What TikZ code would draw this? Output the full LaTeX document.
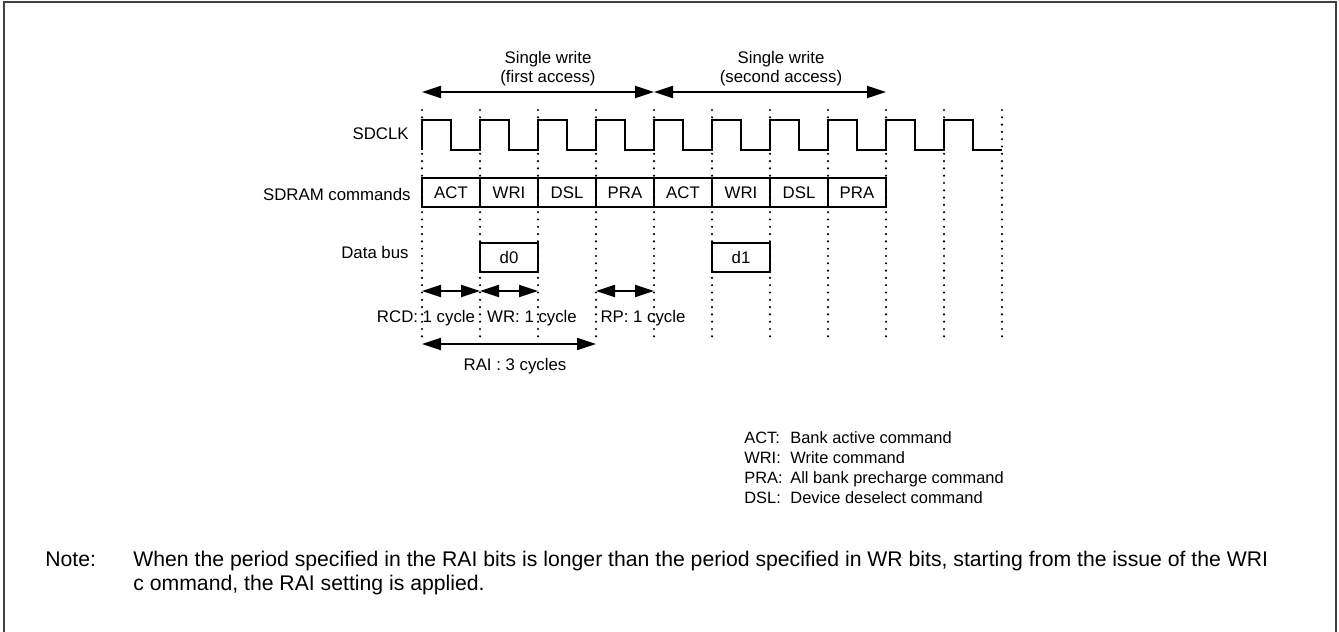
\documentclass[tikz,border=0pt]{standalone}
\usepackage{fontspec}
\setmainfont{Liberation Sans}
\usetikzlibrary{arrows.meta}

\newcommand{\dfont}{\fontsize{8.4}{9.5}\selectfont}
\newcommand{\lfont}{\fontsize{8.2}{10}\selectfont}
\newcommand{\nfont}{\fontsize{10.6}{12}\selectfont}

\begin{document}
\begin{tikzpicture}[
  x=0.5pt, y=-0.5pt,
  lbl/.style={font=\dfont, inner sep=0pt},
  cell/.style={draw, line width=0.9pt, minimum width=29pt, minimum height=14.5pt, inner sep=0pt, font=\dfont},
  guide/.style={line width=1.2pt, dash pattern=on 0pt off 3.65pt, line cap=round},
  sig/.style={line width=0.9pt},
  dim/.style={{Triangle[length=9.5pt, width=6pt]}-{Triangle[length=9.5pt, width=6pt]}, line width=0.9pt},
  frame/.style={line width=1pt, black!75}
]

\useasboundingbox (0,0) rectangle (1339,632);

% Outer frame (open at the bottom)
\draw[frame] (4,632) -- (4,2) -- (1336,2) -- (1336,632);

% Cycle guides
\draw[guide] (422,110) -- (422,342);
\draw[guide] (480,110) -- (480,342);
\draw[guide] (538,110) -- (538,342);
\draw[guide] (596,110) -- (596,342);
\draw[guide] (654,110) -- (654,342);
\draw[guide] (712,110) -- (712,342);
\draw[guide] (770,110) -- (770,342);
\draw[guide] (828,110) -- (828,342);
\draw[guide] (886,110) -- (886,342);
\draw[guide] (944,110) -- (944,342);
\draw[guide] (1002,110) -- (1002,342);

% Signal names
\node[lbl, anchor=base east] (clkname) at (409,139) {SDCLK};
\node[lbl, anchor=base east] (cmdname) at (411,200) {SDRAM commands};
\node[lbl, anchor=base east] (busname) at (409,258) {Data bus};

% SDCLK
\draw[sig] (422,150)
  -- ++(0,-30) -- ++(29,0) -- ++(0,30) -- ++(29,0)
  -- ++(0,-30) -- ++(29,0) -- ++(0,30) -- ++(29,0)
  -- ++(0,-30) -- ++(29,0) -- ++(0,30) -- ++(29,0)
  -- ++(0,-30) -- ++(29,0) -- ++(0,30) -- ++(29,0)
  -- ++(0,-30) -- ++(29,0) -- ++(0,30) -- ++(29,0)
  -- ++(0,-30) -- ++(29,0) -- ++(0,30) -- ++(29,0)
  -- ++(0,-30) -- ++(29,0) -- ++(0,30) -- ++(29,0)
  -- ++(0,-30) -- ++(29,0) -- ++(0,30) -- ++(29,0)
  -- ++(0,-30) -- ++(29,0) -- ++(0,30) -- ++(29,0)
  -- ++(0,-30) -- ++(29,0) -- ++(0,30) -- ++(29,0);

% SDRAM commands
\node[cell] (c1) at (451,192.5) {ACT};
\node[cell] (c2) at (509,192.5) {WRI};
\node[cell] (c3) at (567,192.5) {DSL};
\node[cell] (c4) at (625,192.5) {PRA};
\node[cell] (c5) at (683,192.5) {ACT};
\node[cell] (c6) at (741,192.5) {WRI};
\node[cell] (c7) at (799,192.5) {DSL};
\node[cell] (c8) at (857,192.5) {PRA};

% Data bus
\node[cell] (d0) at (509,257.5) {d0};
\node[cell] (d1) at (741,257.5) {d1};

% Access spans
\coordinate (a0) at (422,92);
\coordinate (a1) at (654,92);
\coordinate (a2) at (886,92);
\draw[dim] (a0) -- (a1);
\draw[dim] (a1) -- (a2);
\node[lbl, align=center] (first) at (548,69) {Single write\\(first access)};
\node[lbl, align=center] (second) at (781,69) {Single write\\(second access)};

% Timing spans
\coordinate (r0) at (422,291);
\coordinate (r1) at (480,291);
\coordinate (r2) at (538,291);
\coordinate (p0) at (596,291);
\coordinate (p1) at (654,291);
\coordinate (q0) at (422,344);
\coordinate (q1) at (596,344);
\draw[dim] (r0) -- (r1);
\draw[dim] (r1) -- (r2);
\draw[dim] (p0) -- (p1);
\draw[dim] (q0) -- (q1);
\node[lbl, anchor=base] (rcd) at (426,322) {RCD: 1 cycle};
\node[lbl, anchor=base] (wr) at (532,322) {WR: 1 cycle};
\node[lbl, anchor=base] (rp) at (643,322) {RP: 1 cycle};
\node[lbl, anchor=base] (rai) at (515,370) {RAI : 3 cycles};

% Legend
\node[lbl, font=\lfont, anchor=base west] (k1) at (744,443) {ACT:};
\node[lbl, font=\lfont, anchor=base west] (k2) at (744,463) {WRI:};
\node[lbl, font=\lfont, anchor=base west] (k3) at (744,483) {PRA:};
\node[lbl, font=\lfont, anchor=base west] (k4) at (744,503) {DSL:};
\node[lbl, font=\lfont, anchor=base west] (v1) at (790,443) {Bank active command};
\node[lbl, font=\lfont, anchor=base west] (v2) at (790,463) {Write command};
\node[lbl, font=\lfont, anchor=base west] (v3) at (790,483) {All bank precharge command};
\node[lbl, font=\lfont, anchor=base west] (v4) at (790,503) {Device deselect command};

% Note
\node[lbl, font=\nfont, anchor=base west] (note) at (45,566) {Note:};
\node[lbl, font=\nfont, anchor=base west] (note1) at (133,566)
  {When the period specified in the RAI bits is longer than the period specified in WR bits, starting from the issue of the WRI};
\node[lbl, font=\nfont, anchor=base west] (note2) at (133,590) {c ommand, the RAI setting is applied.};

\end{tikzpicture}
\end{document}
